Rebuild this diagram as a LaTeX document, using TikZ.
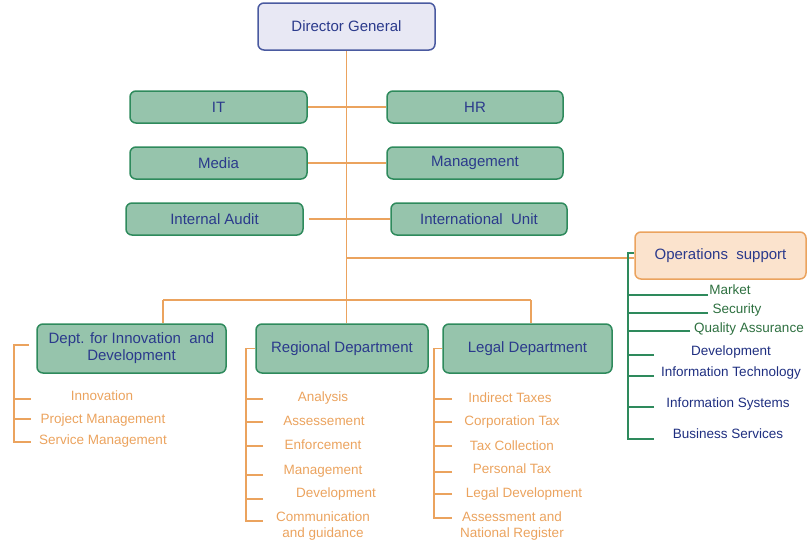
\documentclass[tikz,border=0pt]{standalone}
\usepackage{fontspec}
\setmainfont{Liberation Sans}
\definecolor{navy}{HTML}{2B3A8C}
\definecolor{dgfill}{HTML}{E8E8F4}
\definecolor{dgline}{HTML}{4A5AA0}
\definecolor{gfill}{HTML}{96C4AC}
\definecolor{gline}{HTML}{2E8A5C}
\definecolor{orng}{HTML}{EBA35E}
\definecolor{ofill}{HTML}{FBE3CD}
\definecolor{gtext}{HTML}{2E7040}
\definecolor{btext}{HTML}{1E2E80}
\tikzset{
	box/.style={draw=gline,fill=gfill,line width=1.5pt,rounded corners=6pt,text=navy,font=\fontsize{15}{17}\selectfont,align=center},
	item/.style={inner sep=0pt,font=\fontsize{13.5}{16}\selectfont,align=center},
	oline/.style={draw=orng,line width=1.7pt},
	gl/.style={draw=gline,line width=1.7pt}
}
\begin{document}
\begin{tikzpicture}[x=1pt,y=-1pt]
			\useasboundingbox (0,0) rectangle (808,544);
			\node[box,draw=dgline,fill=dgfill,minimum width=177pt,minimum height=47pt] (dg) at (346.5,26.5) {Director General};
			\node[box,minimum width=177pt,minimum height=32pt] (it) at (218.5,107) {IT};
			\node[box,minimum width=176pt,minimum height=32pt] (hr) at (475,107) {HR};
			\node[box,minimum width=177pt,minimum height=32pt] (media) at (218.5,163) {Media};
			\node[box,minimum width=176pt,minimum height=32pt] (mgmt) at (475,163) {Management};
			\node[box,minimum width=177pt,minimum height=32pt] (audit) at (214.5,219) {Internal Audit};
			\node[box,minimum width=176pt,minimum height=32pt] (intl) at (479,219) {International~ Unit};
			\node[box,draw=orng,fill=ofill,minimum width=171pt,minimum height=47pt] (ops) at (720.5,255.5) {Operations~ support};
			\node[box,minimum width=189pt,minimum height=49pt] (dinn) at (131.5,348.5) {Dept. for Innovation~ and\\Development};
			\node[box,minimum width=172pt,minimum height=49pt] (reg) at (342,348.5) {Regional Department};
			\node[box,minimum width=169pt,minimum height=49pt] (legal) at (527.5,348.5) {Legal Department};
			\coordinate (dj) at (163,300);
			\coordinate (lj) at (531,300);
			\coordinate (ds) at (14,345);
			\coordinate (dt) at (29,345);
			\node[item,text=orng] (i1) at (102,396) {Innovation};
			\node[item,text=orng] (i2) at (103,420) {Project Management};
			\node[item,text=orng] (i3) at (103,441) {Service Management};
			\coordinate (i1t) at (31,399);
			\coordinate (i2t) at (31,419);
			\coordinate (i3t) at (31,442);
			\node[item,text=orng] (r1) at (323,398) {Analysis};
			\node[item,text=orng] (r2) at (324,421) {Assessement};
			\node[item,text=orng] (r3) at (323,445) {Enforcement};
			\node[item,text=orng] (r4) at (323,471) {Management};
			\node[item,text=orng] (r5) at (336,494) {Development};
			\node[item,text=orng] (r6) at (323,526) {Communication\\and guidance};
			\coordinate (r1t) at (263,399);
			\coordinate (r2t) at (263,422);
			\coordinate (r3t) at (263,446);
			\coordinate (r4t) at (263,475);
			\coordinate (r5t) at (263,499);
			\coordinate (r6t) at (263,521);
			\node[item,text=orng] (l1) at (510,398) {Indirect Taxes};
			\node[item,text=orng] (l2) at (512,422) {Corporation Tax};
			\node[item,text=orng] (l3) at (512,446) {Tax Collection};
			\node[item,text=orng] (l4) at (512,469) {Personal Tax};
			\node[item,text=orng] (l5) at (524,494) {Legal Development};
			\node[item,text=orng] (l6) at (512,526) {Assessment and\\National Register};
			\coordinate (l1t) at (452,399);
			\coordinate (l2t) at (452,422);
			\coordinate (l3t) at (452,446);
			\coordinate (l4t) at (452,472);
			\coordinate (l5t) at (452,494);
			\coordinate (l6t) at (452,518);
			\node[item,text=gtext] (o1) at (730,290) {Market};
			\node[item,text=gtext] (o2) at (737,310) {Security};
			\node[item,text=gtext] (o3) at (749,329) {Quality Assurance};
			\node[item,text=btext] (o4) at (731,352) {Development};
			\node[item,text=btext] (o5) at (731,373) {Information Technology};
			\node[item,text=btext] (o6) at (728,404) {Information Systems};
			\node[item,text=btext] (o7) at (728,434) {Business Services};
			\coordinate (o1t) at (708,295);
			\coordinate (o2t) at (708,313);
			\coordinate (o3t) at (690,331);
			\coordinate (o4t) at (654,355);
			\coordinate (o5t) at (654,376);
			\coordinate (o6t) at (654,407);
			\coordinate (o7t) at (654,439);
			\draw[oline] (dg.south) -- (dg.south |- reg.north);
			\draw[oline] (it.east) -- (hr.west);
			\draw[oline] (media.east) -- (mgmt.west);
			\draw[oline,shorten <=5pt] (audit.east) -- (intl.west);
			\draw[oline] ([yshift=-2.5pt]dg.south |- ops.west) -- ([yshift=-2.5pt]ops.west);
			\draw[oline] (dj) -- (lj);
			\draw[oline] (dj) -- (dj |- dinn.north);
			\draw[oline] (lj) -- (lj |- legal.north);
			\draw[oline] (dt) -- (ds) |- (i3t);
			\draw[oline] (ds |- i1t) -- (i1t);
			\draw[oline] (ds |- i2t) -- (i2t);
			\draw[oline] (reg.west) -- ++(-9,0) |- (r6t);
			\draw[oline] (r1t) -- ++(-16,0);
			\draw[oline] (r2t) -- ++(-16,0);
			\draw[oline] (r3t) -- ++(-16,0);
			\draw[oline] (r4t) -- ++(-16,0);
			\draw[oline] (r5t) -- ++(-16,0);
			\draw[oline] (legal.west) -- ++(-8,0) |- (l6t);
			\draw[oline] (l1t) -- ++(-17,0);
			\draw[oline] (l2t) -- ++(-17,0);
			\draw[oline] (l3t) -- ++(-17,0);
			\draw[oline] (l4t) -- ++(-17,0);
			\draw[oline] (l5t) -- ++(-17,0);
			\draw[gl] ([yshift=2.5pt]ops.west) -- ++(-6,0) |- (o7t);
			\draw[gl] (o1t) -- ++(-79,0);
			\draw[gl] (o2t) -- ++(-79,0);
			\draw[gl] (o3t) -- ++(-61,0);
			\draw[gl] (o4t) -- ++(-25,0);
			\draw[gl] (o5t) -- ++(-25,0);
			\draw[gl] (o6t) -- ++(-25,0);
		\end{tikzpicture}
\end{document}
